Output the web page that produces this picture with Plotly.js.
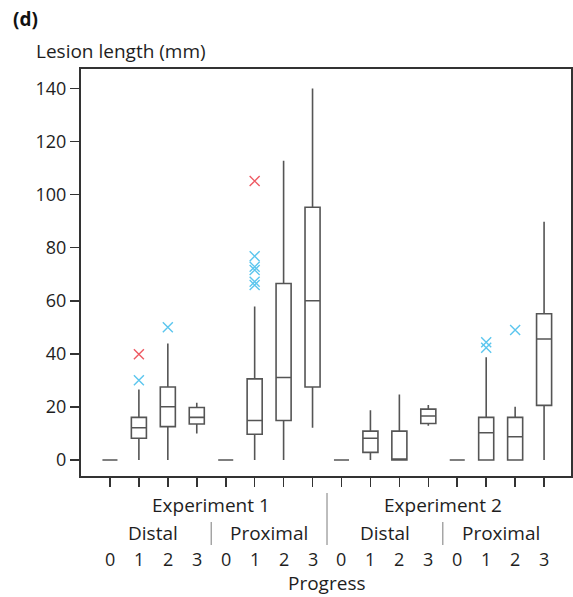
<!DOCTYPE html>
<html><head><meta charset="utf-8">
<script src="https://cdn.plot.ly/plotly-3.0.1.min.js"></script>
<style>html,body{margin:0;padding:0;background:#fff;}#chart{width:573px;height:597px;}</style>
</head><body><div id="chart"></div>
<script>
// 16 groups: Experiment x Site x Progress
const progressLabels = ['0','1','2','3','0','1','2','3','0','1','2','3','0','1','2','3'];
const siteLabels = ['Distal','Proximal','Distal','Proximal'];
const experimentLabels = ['Experiment 1','Experiment 2'];

const lowerFence = [0, 0, 0, 10.0, 0, 0, 0, 12.2,   0, 0, 0, 12.9, 0, 0, 0, 0];
const q1Vals     = [0, 8.2, 12.6, 13.6, 0, 9.7, 14.9, 27.5,   0, 2.9, 0, 13.8, 0, 0, 0, 20.6];
const medianVals = [0, 12.2, 20.1, 16.1, 0, 14.9, 31.1, 60.0,   0, 8.2, 0, 16.6, 0, 10.3, 8.8, 45.6];
const q3Vals     = [0, 16.1, 27.5, 19.8, 0, 30.6, 66.5, 95.2,   0, 10.9, 10.9, 19.2, 0, 16.1, 16.1, 55.1];
const upperFence = [0, 26.6, 43.9, 21.6, 0, 57.8, 112.7, 140.0,   0, 18.8, 24.7, 20.7, 0, 38.7, 20.1, 89.8];

// outliers (cyan = outlier, red = far outlier)
const cyanX = [1, 2, 5, 5, 5, 5, 5, 13, 13, 14];
const cyanY = [30.1, 50.0, 76.8, 72.8, 71.6, 67.2, 65.9, 44.4, 42.3, 49.0];
const redX = [1, 5];
const redY = [39.9, 105.1];

const FONT = 'Open Sans, Noto Sans, sans-serif';
const TXT = '#1e1e1e';
const WORD = 19, DIGIT = 18;

const traces = [];
for (let i = 0; i < progressLabels.length; i++) {
  traces.push({
    type: 'box', x: [i],
    q1: [q1Vals[i]], median: [medianVals[i]], q3: [q3Vals[i]],
    lowerfence: [lowerFence[i]], upperfence: [upperFence[i]],
    width: 0.52, whiskerwidth: 0,
    fillcolor: 'rgba(255,255,255,0)',
    line: {color: '#555', width: 1.6},
    boxpoints: false, showlegend: false, hoverinfo: 'skip'
  });
}
traces.push({type: 'scatter', mode: 'markers', x: cyanX, y: cyanY, showlegend: false,
  marker: {symbol: 'x-thin-open', size: 10, color: '#5cc6ee', line: {color: '#5cc6ee', width: 1.4}}});
traces.push({type: 'scatter', mode: 'markers', x: redX, y: redY, showlegend: false,
  marker: {symbol: 'x-thin-open', size: 10, color: '#ee5a63', line: {color: '#ee5a63', width: 1.4}}});

// layout helpers (pixel -> paper)
const L = 81, R = 571, T = 69, B = 476;
const py = p => (B - p) / (B - T);
const px = p => (p - L) / (R - L);

const annotations = [];
progressLabels.forEach((t, i) => annotations.push({
  xref: 'x', yref: 'paper', x: i, y: py(559), text: t, showarrow: false,
  font: {family: FONT, size: DIGIT, color: TXT}, xanchor: 'center', yanchor: 'middle'}));
siteLabels.forEach((t, k) => annotations.push({
  xref: 'x', yref: 'paper', x: 4 * k + 1.5, y: py(533), text: t, showarrow: false,
  font: {family: FONT, size: WORD, color: TXT}, xanchor: 'center', yanchor: 'middle'}));
experimentLabels.forEach((t, k) => annotations.push({
  xref: 'x', yref: 'paper', x: 8 * k + 3.5, y: py(505), text: t, showarrow: false,
  font: {family: FONT, size: WORD, color: TXT}, xanchor: 'center', yanchor: 'middle'}));
annotations.push({xref: 'paper', yref: 'paper', x: 0.5, y: py(583), text: 'Progress', showarrow: false,
  font: {family: FONT, size: WORD, color: TXT}, xanchor: 'center', yanchor: 'middle'});
annotations.push({xref: 'paper', yref: 'paper', x: px(34), y: py(51), text: 'Lesion length (mm)', showarrow: false,
  font: {family: FONT, size: WORD, color: TXT}, xanchor: 'left', yanchor: 'middle'});
annotations.push({xref: 'paper', yref: 'paper', x: px(11), y: py(19), text: '<b>(d)</b>', showarrow: false,
  font: {family: FONT, size: 19, color: '#111'}, xanchor: 'left', yanchor: 'middle'});

const shapes = [
  {type: 'line', xref: 'x', yref: 'paper', x0: 7.5, x1: 7.5, y0: py(493), y1: py(545), line: {color: '#999', width: 1.3}},
  {type: 'line', xref: 'x', yref: 'paper', x0: 3.5, x1: 3.5, y0: py(522), y1: py(545), line: {color: '#999', width: 1.3}},
  {type: 'line', xref: 'x', yref: 'paper', x0: 11.5, x1: 11.5, y0: py(522), y1: py(545), line: {color: '#999', width: 1.3}}
];

const layout = {
  width: 573, height: 597,
  margin: {l: L, r: 573 - R, t: T, b: 597 - B},
  paper_bgcolor: '#fff', plot_bgcolor: '#fff',
  showlegend: false,
  xaxis: {range: [-1, 15.93], tickmode: 'array', tickvals: progressLabels.map((_, i) => i),
    showticklabels: false, ticks: 'outside', ticklen: 9, tickwidth: 1.6, tickcolor: '#333',
    showgrid: false, zeroline: false, showline: true, linecolor: '#333', linewidth: 2, mirror: true},
  yaxis: {range: [-6, 147.3], tickmode: 'array', tickvals: [0, 20, 40, 60, 80, 100, 120, 140],
    ticks: 'outside', ticklen: 9, tickwidth: 1.6, tickcolor: '#333',
    tickfont: {family: FONT, size: DIGIT, color: TXT},
    showgrid: false, zeroline: false, showline: true, linecolor: '#333', linewidth: 2, mirror: true},
  annotations: annotations, shapes: shapes
};

Plotly.newPlot('chart', traces, layout, {displayModeBar: false, staticPlot: true});
</script></body></html>
